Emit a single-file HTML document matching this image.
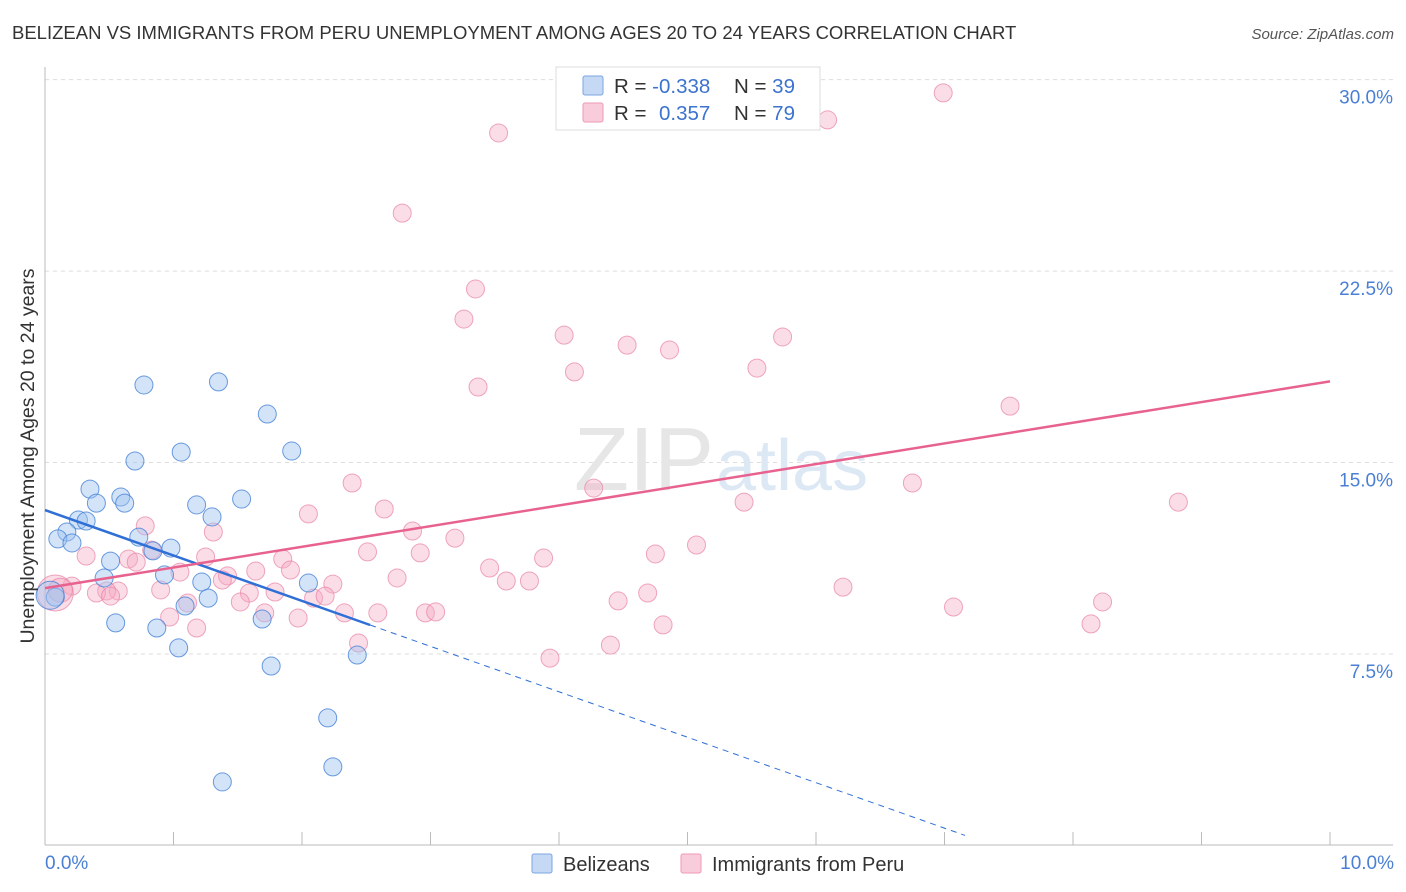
<!DOCTYPE html>
<html><head><meta charset="utf-8"><style>
body{margin:0;background:#fff;font-family:"Liberation Sans",sans-serif;overflow:hidden;}
svg text{font-family:"Liberation Sans",sans-serif;}
</style></head><body>
<svg id="chart" width="1406" height="892" style="display:block">
<text x="12" y="39" font-size="18.5" fill="#333">BELIZEAN VS IMMIGRANTS FROM PERU UNEMPLOYMENT AMONG AGES 20 TO 24 YEARS CORRELATION CHART</text>
<text x="1394" y="39" font-size="15" fill="#555" font-style="italic" text-anchor="end">Source: ZipAtlas.com</text>
<g id="grid"></g>
<text x="714" y="490" font-size="90" fill="#e6e6e6" text-anchor="end" font-family="Liberation Serif">ZIP</text>
<text x="716" y="490" font-size="72" fill="#dde8f5">atlas</text>
<g id="points"></g>
<g id="lines"></g>
<text x="34" y="456" font-size="19.5" fill="#333" text-anchor="middle" transform="rotate(-90 34 456)">Unemployment Among Ages 20 to 24 years</text>
<text x="45" y="869" font-size="19" fill="#4a7fd4">0.0%</text>
<text x="1394" y="869" font-size="19" fill="#4a7fd4" text-anchor="end">10.0%</text>
<g>
<rect x="556" y="67" width="264" height="63" fill="#fff" stroke="#ddd"/>
<rect x="583" y="76" width="20" height="19" fill="#c5d9f5" stroke="#7aa5e0" rx="2"/>
<rect x="583" y="103" width="20" height="19" fill="#f9ccdb" stroke="#ee9ab5" rx="2"/>
<text x="614" y="93" font-size="20.5" fill="#333">R = <tspan fill="#3b73cf">-0.338</tspan></text>
<text x="734" y="93" font-size="20.5" fill="#333">N = <tspan fill="#3b73cf">39</tspan></text>
<text x="614" y="120" font-size="20.5" fill="#333">R = <tspan fill="#3b73cf" x="659">0.357</tspan></text>
<text x="734" y="120" font-size="20.5" fill="#333">N = <tspan fill="#3b73cf">79</tspan></text>
</g>
<g>
<rect x="532" y="854" width="20" height="19" fill="#c5d9f5" stroke="#7aa5e0" rx="2"/>
<text x="563" y="871" font-size="20" fill="#333">Belizeans</text>
<rect x="681" y="854" width="20" height="19" fill="#f9ccdb" stroke="#ee9ab5" rx="2"/>
<text x="712" y="871" font-size="20" fill="#333">Immigrants from Peru</text>
</g>
</svg>
<script>
const yTicks=[7.5,15,22.5,30];
const yTickLabels=["7.5%","15.0%","22.5%","30.0%"];
const xTicks=[1,2,3,4,5,6,7,8,9,10];
const blueX=[.77,1.35,1.73,1.92,1.06,.70,.35,.59,.62,.40,1.53,1.18,1.30,.26,.32,.17,.10,.21,.73,.84,.98,.51,.46,.93,1.22,1.27,.08,1.09,.55,.87,1.69,1.04,1.76,2.43,2.20,2.24,1.38,2.05,.04];
const blueY=[18.04,18.16,16.90,15.45,15.41,15.06,13.96,13.65,13.41,13.41,13.57,13.34,12.87,12.75,12.71,12.28,12.01,11.85,12.08,11.54,11.65,11.14,10.48,10.60,10.32,9.69,9.73,9.38,8.72,8.52,8.87,7.74,7.03,7.46,5.00,3.08,2.49,10.28,9.8];
const pinkX=[6.99,6.09,3.53,2.78,3.35,3.26,4.04,4.53,4.86,5.74,4.12,5.54,3.37,7.51,2.39,4.27,5.44,6.75,8.82,2.64,2.05,.78,1.31,2.86,3.19,5.07,2.51,2.92,3.88,4.75,1.25,1.85,.65,.83,.32,.71,1.05,1.64,1.91,3.46,1.42,1.38,2.74,3.59,3.77,2.24,.90,1.59,1.79,.57,.48,.40,.21,6.21,4.69,.51,2.09,2.18,1.52,1.11,4.46,8.23,1.71,2.33,2.59,2.96,3.04,7.07,.97,1.97,1.18,4.81,8.14,2.44,4.40,3.93,.08,.12];
const pinkY=[29.48,28.42,27.91,24.77,21.80,20.62,19.99,19.60,19.41,19.92,18.55,18.70,17.96,17.21,14.20,14.00,13.45,14.20,13.45,13.18,12.99,12.52,12.28,12.32,12.04,11.77,11.50,11.46,11.26,11.42,11.30,11.22,11.22,11.57,11.34,11.10,10.71,10.75,10.79,10.87,10.56,10.40,10.48,10.36,10.36,10.24,10.01,9.89,9.93,9.97,9.97,9.89,10.16,10.12,9.89,9.77,9.69,9.77,9.54,9.50,9.58,9.54,9.11,9.11,9.11,9.11,9.15,9.34,8.95,8.91,8.52,8.64,8.68,7.93,7.85,7.34,9.89,10.0];
const blueTrend=[13.14,-1.78];
const pinkTrend=[10.08,0.81];
const NS="http://www.w3.org/2000/svg";
const X=v=>45+v*128.5, Y=v=>845.5-v*25.53;
function mk(t,a,p){const e=document.createElementNS(NS,t);for(const k in a)e.setAttribute(k,a[k]);p.appendChild(e);return e;}
const grid=document.getElementById('grid');
yTicks.forEach((t,i)=>{
  const l=mk('line',{x1:45,x2:1393,y1:Y(t),y2:Y(t),stroke:'#ddd','stroke-dasharray':'4 4'},grid);
  
  
  const tx=mk('text',{x:1393,y:Y(t)+24,'font-size':19,fill:'#4a7fd4','text-anchor':'end'},grid);
  tx.textContent=yTickLabels[i];
  
  
});
const ax=mk('line',{x1:45,x2:45,y1:67,y2:845,stroke:'#bbb'},grid);


const bx=mk('line',{x1:45,x2:1393,y1:845,y2:845,stroke:'#bbb'},grid);


xTicks.forEach(t=>{const l=mk('line',{x1:X(t),x2:X(t),y1:832,y2:845,stroke:'#bbb'},grid);
  
  });
const pts=document.getElementById('points');
pinkX.forEach((x,i)=>{const r=i>=pinkX.length-2?(i==pinkX.length-2?18:12):9;
  const c=mk('circle',{cx:X(x),cy:Y(pinkY[i]),r:r,fill:'rgba(246,170,195,0.4)',stroke:'rgba(232,130,165,0.7)','stroke-width':1},pts);
  
  });
blueX.forEach((x,i)=>{const r=i==blueX.length-1?14:9;
  const c=mk('circle',{cx:X(x),cy:Y(blueY[i]),r:r,fill:'rgba(160,195,240,0.45)',stroke:'rgba(70,130,215,0.8)','stroke-width':1},pts);
  
  });
const ln=document.getElementById('lines');
const bt=x=>blueTrend[0]+blueTrend[1]*x, pt=x=>pinkTrend[0]+pinkTrend[1]*x;
const b1=mk('line',{x1:X(0),y1:Y(bt(0)),x2:X(2.53),y2:Y(bt(2.53)),stroke:'#2f6fd6','stroke-width':2.5},ln);


const b2=mk('line',{x1:X(2.53),y1:Y(bt(2.53)),x2:X(7.16),y2:Y(bt(7.16)),stroke:'#2f6fd6','stroke-width':1,'stroke-dasharray':'6 5'},ln);


const p1=mk('line',{x1:X(0),y1:Y(pt(0)),x2:X(10),y2:Y(pt(10)),stroke:'#e8628f','stroke-width':2.5},ln);


</script>
</body></html>
